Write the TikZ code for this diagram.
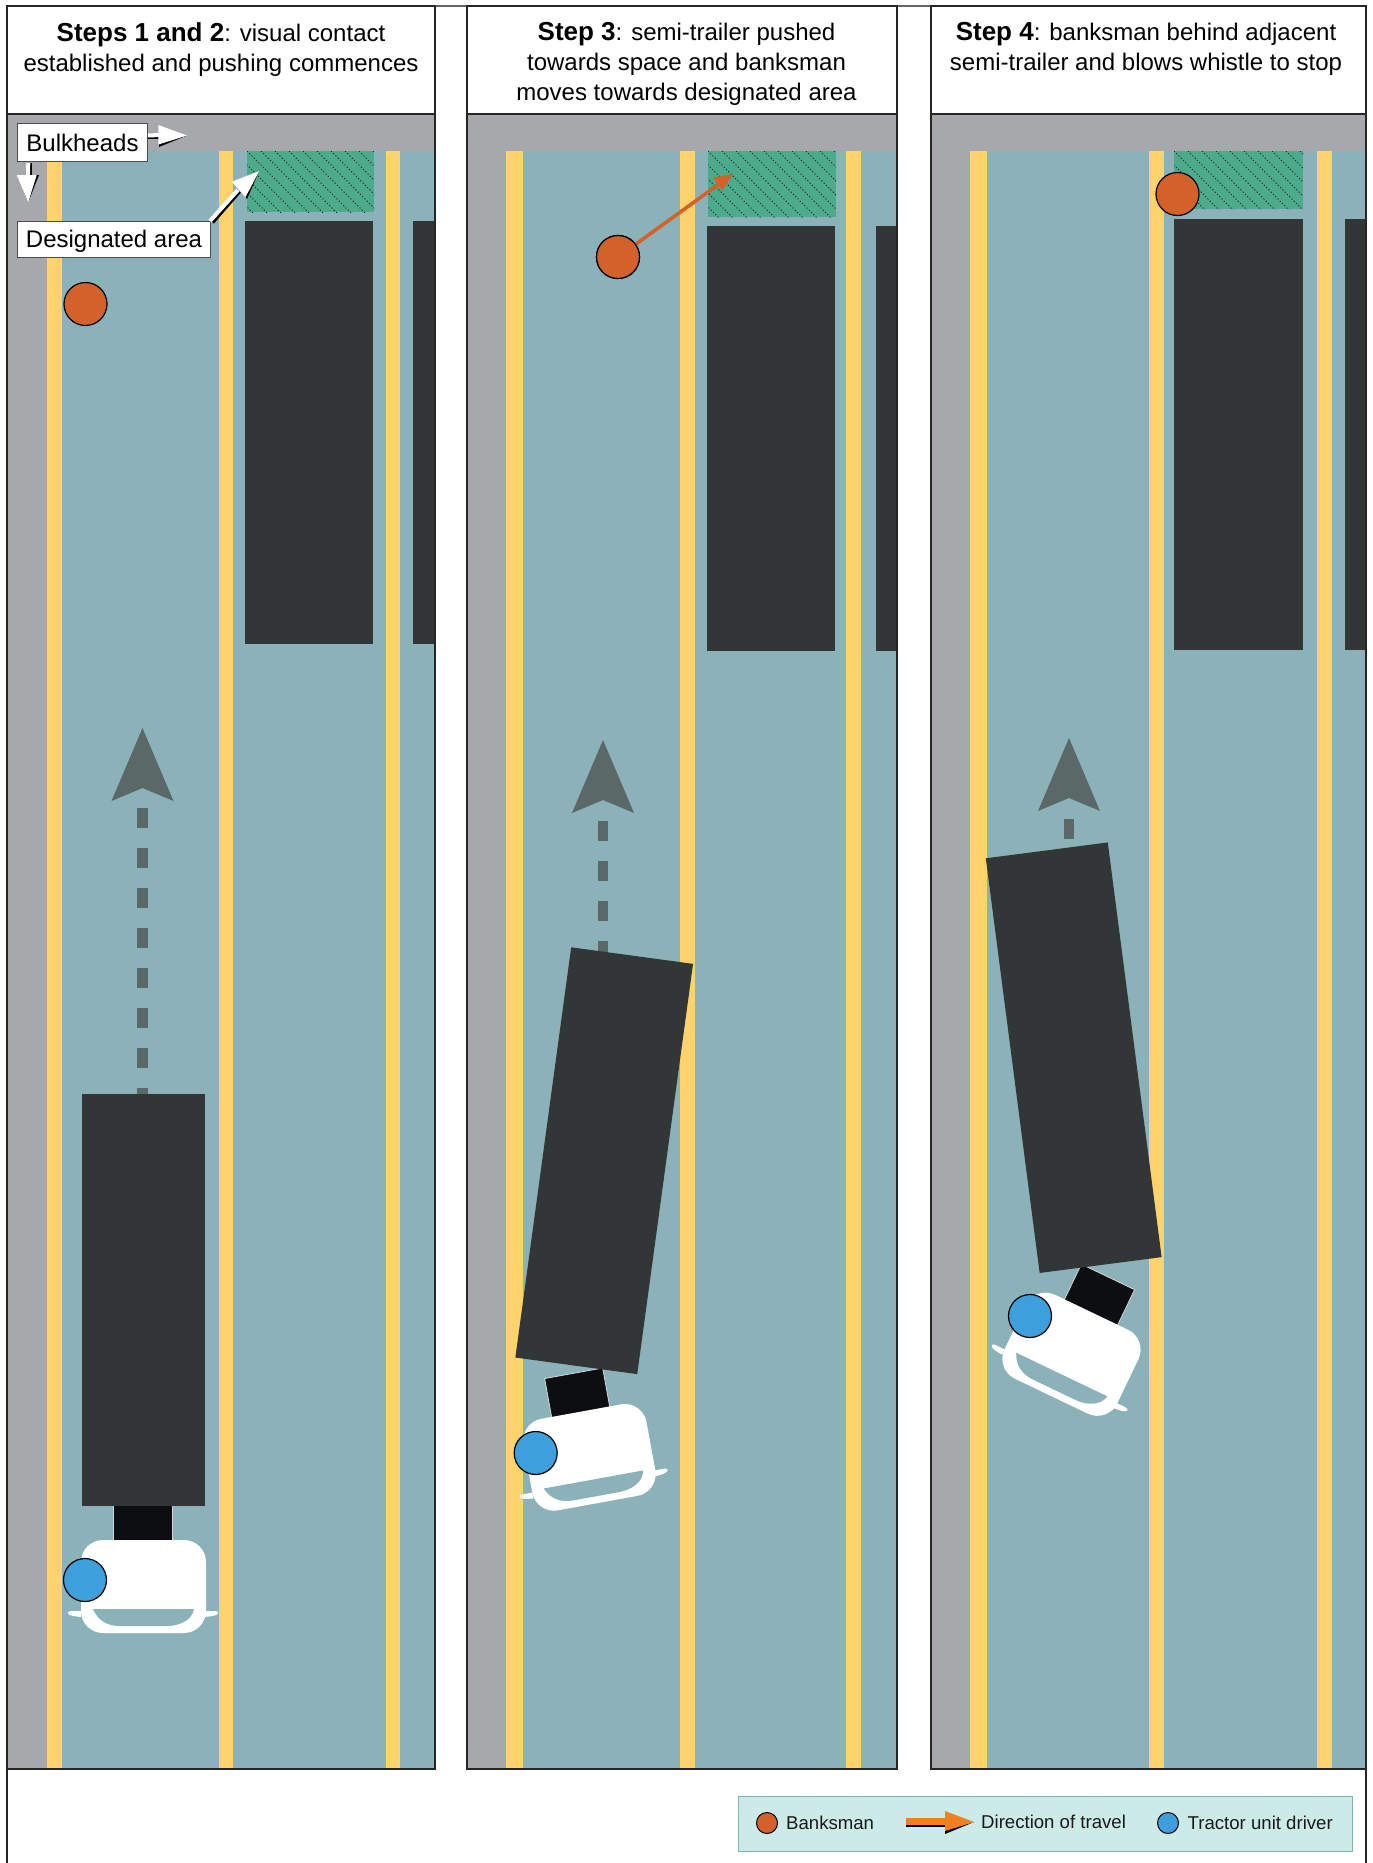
\documentclass[tikz,border=0pt]{standalone}
\usepackage{fontspec}
\setmainfont{Liberation Sans}
\usetikzlibrary{calc}
\definecolor{kerb}{HTML}{A7A8AC}
\definecolor{lane}{HTML}{FFD36B}
\definecolor{floorteal}{HTML}{8BB2B9}
\definecolor{bayarea}{HTML}{4CAB8B}
\definecolor{trailer}{HTML}{323637}
\definecolor{chassis}{HTML}{0D0E12}
\definecolor{banksman}{HTML}{D2622A}
\definecolor{driver}{HTML}{3D9FDB}
\definecolor{guide}{HTML}{5A6868}
\definecolor{legendfill}{HTML}{CCEBE8}
\definecolor{legendline}{HTML}{7EB5AE}
\definecolor{travel}{HTML}{F08020}
\newcommand{\hatcharea}[4]{%
	\fill[bayarea] (#1,#2) rectangle (#3,#4);
	\begin{scope}
		\clip (#1,#2) rectangle (#3,#4);
		\foreach \k in {-84,-70,...,140}
		\draw[black!85, line width=0.9pt, dash pattern=on 1.2pt off 2pt] ($(#1,#2)+(\k,0)$) -- ++(84,84);
	\end{scope}}
\newcommand{\stepname}[1]{{\fontsize{26}{30}\selectfont\textbf{#1}}}

\begin{document}
\begin{tikzpicture}[
	x=1pt, y=-1pt,
	% Styles for the panels and the people
	paneline/.style={draw=black!85, line width=1.6pt},
	steptitle/.style={font=\fontsize{24}{30}\selectfont, align=center, anchor=north, inner sep=0pt},
	callout/.style={draw=black!70, line width=1pt, fill=white, font=\fontsize{24}{28}\selectfont, inner sep=0pt},
	person/.style={circle, draw=black, line width=1.2pt, minimum size=43pt, inner sep=0pt},
	legendtext/.style={font=\fontsize{18.6}{22}\selectfont, inner sep=0pt, anchor=west, text=black!90},
	% Tractor unit and semi-trailer, drawn about the middle of the mirrors
	tractorunit/.pic={
		\draw[fill=chassis, draw=white!85!black, line width=0.8pt] (-29.5,-111) rectangle (29.5,-70);
		\fill[white, rounded corners=22pt] (-62,-72) rectangle (63,21);
		\fill[white] (-62,-1) -- (-72,-1) .. controls (-77,-1) and (-76,3) .. (-70,4) -- (-62,5) -- cycle;
		\fill[white] (62,-1) -- (72,-1) .. controls (77,-1) and (76,3) .. (70,4) -- (62,5) -- cycle;
		\fill[floorteal] (-50,-3) -- (51,-3) .. controls (49,9) and (35,14) .. (24,14) -- (-23,14) .. controls (-35,14) and (-45,9) .. (-50,-3) -- cycle;
	},
	semitrailer/.pic={
		\fill[trailer] (-61.5,-206) rectangle (61.5,206);
	},
	guidearrow/.pic={
		\fill[guide] (0,0) -- (31,73) -- (0,60) -- (-31,73) -- cycle;
	}
	]
	\useasboundingbox (0,0) rectangle (1373,1863);
	\fill[white] (0,0) rectangle (1373,1863);
	
	% ==========================================
	% OUTER FRAME
	% ==========================================
	\draw[black!85, line width=1.4pt] (7,1769) -- (7,1863);
	\draw[black!85, line width=1.6pt] (1366,1769) -- (1366,1863);
	\draw[black!60, line width=1.6pt] (435,6) -- (467,6);
	\draw[black!60, line width=1.6pt] (897,6) -- (931,6);
	
	% ==========================================
	% 1. STEPS 1 AND 2
	% ==========================================
	\fill[kerb] (7,114) rectangle (435,1769);
	\fill[floorteal] (47,151) rectangle (435,1769);
	\fill[lane] (47,151) rectangle (62,1769);
	\fill[lane] (219,151) rectangle (233,1769);
	\fill[lane] (386,151) rectangle (400,1769);
	\hatcharea{247}{151}{374}{212}
	\fill[trailer] (245,221) rectangle (373,644);
	\fill[trailer] (413,221) rectangle (435,644);
	
	% Direction of the push
	\draw[guide, line width=10.5pt, dash pattern=on 20pt off 20pt] (142.5,808) -- (142.5,1100);
	\pic at (142.5,728) {guidearrow};
	\pic at (143,1612) {tractorunit};
	\pic at (143.5,1299.5) {semitrailer};
	\node[person, fill=driver] (driver1) at (85,1580) {};
	\node[person, fill=banksman] (banksman1) at (85.5,304) {};
	
	% Callouts
	\node[callout, anchor=north west, minimum width=130pt, minimum height=38pt] (bulkheads) at (17,123) {Bulkheads};
	\node[callout, anchor=north west, minimum width=193pt, minimum height=36pt, text height=21pt, text depth=4.2pt] (designated) at (17,221) {Designated area};
	\coordinate (bulkright) at (187,135.5);
	\coordinate (bulkdown) at (28.3,202);
	\coordinate (areatip) at (259.3,171);
	\draw[black, line width=5pt] (bulkheads.east |- bulkright) ++(0,0.8) -- (160,136.3);
	\draw[white, line width=4pt] (bulkheads.east |- bulkright) -- (160,135);
	\fill[black] (159,147) -- (bulkright) -- (159,143) -- cycle;
	\fill[white] (158.3,125) -- (bulkright) -- (158.5,144.5) -- cycle;
	\draw[black, line width=5pt] (bulkdown |- bulkheads.south) ++(0.8,1) -- (29.1,176);
	\draw[white, line width=4pt] (bulkdown |- bulkheads.south) ++(0,1) -- (28,176);
	\fill[black] (39,175) -- (bulkdown) -- (35.5,175) -- cycle;
	\fill[white] (16.7,175) -- (bulkdown) -- (36.7,175) -- cycle;
	\draw[black, line width=5pt] (designated.north east) ++(1,1) -- (239,191);
	\draw[white, line width=4pt] (designated.north east) ++(-1,0) -- (238,190);
	\fill[black] (247,199) -- (areatip) -- (245,196) -- cycle;
	\fill[white] (231.7,181.7) -- (areatip) -- (245.5,197) -- cycle;
	
	\node[steptitle] (title1) at (221,22) {\stepname{Steps 1 and 2}: visual contact\\established and pushing commences};
	
	% ==========================================
	% 2. STEP 3
	% ==========================================
	\fill[kerb] (467,114) rectangle (897,1769);
	\fill[floorteal] (506,151) rectangle (897,1769);
	\fill[lane] (506,151) rectangle (523,1769);
	\fill[lane] (680,151) rectangle (695,1769);
	\fill[lane] (846,151) rectangle (861,1769);
	\hatcharea{708}{151}{836}{217}
	\fill[trailer] (707,226) rectangle (835,651);
	\fill[trailer] (876,226) rectangle (897,651);
	
	\draw[guide, line width=10.5pt, dash pattern=on 20pt off 20pt] (603,821) -- (603,960);
	\pic at (603,740) {guidearrow};
	\pic[rotate=10.3] at (593.5,1482.5) {tractorunit};
	\pic[rotate=-7.75, yscale=1.005] at (604.2,1160.7) {semitrailer};
	\node[person, fill=driver] (driver2) at (535.7,1453) {};
	\node[person, fill=banksman] (banksman2) at (618,257) {};
	\coordinate (walktip) at (733,174);
	\draw[banksman, line width=3.6pt] (banksman2) -- ($(banksman2)!0.9!(walktip)$);
	\fill[banksman] (walktip) -- (722,190.5) -- (717,183) -- (713,177.5) -- cycle;
	\node[person, fill=banksman] at (banksman2) {};
	
	\node[steptitle] (title2) at (686.5,22) {\stepname{Step 3}: semi-trailer pushed\\towards space and banksman\\moves towards designated area};
	
	% ==========================================
	% 3. STEP 4
	% ==========================================
	\fill[kerb] (931,114) rectangle (1366,1769);
	\fill[floorteal] (970,151) rectangle (1366,1769);
	\fill[lane] (970,151) rectangle (987,1769);
	\fill[lane] (1149,151) rectangle (1164,1769);
	\fill[lane] (1317,151) rectangle (1332,1769);
	\hatcharea{1174}{151}{1303}{209}
	\fill[trailer] (1174,219) rectangle (1303,650);
	\fill[trailer] (1345,219) rectangle (1366,650);
	
	\draw[guide, line width=10.5pt, dash pattern=on 20pt off 20pt] (1069,819) -- (1069,870);
	\pic at (1069,738) {guidearrow};
	\pic[rotate=-25.6] at (1060,1377) {tractorunit};
	\pic[rotate=7.4, yscale=1.015] at (1073.7,1057.7) {semitrailer};
	\node[person, fill=driver] (driver3) at (1030,1316) {};
	\node[person, fill=banksman] (banksman3) at (1177.5,194) {};
	
	\node[steptitle] (title3) at (1146,22) {\stepname{Step 4}: banksman behind adjacent\\semi-trailer and blows whistle to stop};
	
	% Panel outlines drawn last
	\draw[paneline] (7,6) rectangle (435,1769);
	\draw[paneline] (7,114) -- (435,114);
	\draw[paneline] (467,6) rectangle (897,1769);
	\draw[paneline] (467,114) -- (897,114);
	\draw[paneline] (931,6) rectangle (1366,1769);
	\draw[paneline] (931,114) -- (1366,114);
	
	% ==========================================
	% 4. LEGEND
	% ==========================================
	\node[draw=legendline, line width=1.2pt, fill=legendfill, anchor=north west, minimum width=614pt, minimum height=55pt, inner sep=0pt] (legend) at (738,1796) {};
	\node[circle, draw=black, line width=1pt, fill=banksman, minimum size=21pt, inner sep=0pt] (keybanksman) at (767,1823) {};
	\node[legendtext] (keybanksmantext) at (786,1823) {Banksman};
	\coordinate (keytravelstart) at (906,1823);
	\coordinate (keytraveltip) at (974,1822);
	\fill[black] (keytravelstart) ++(0,1) rectangle (945,1827);
	\fill[black] (945,1834) -- (keytraveltip) -- (945,1830) -- cycle;
	\fill[travel] (keytravelstart) ++(0,-5) rectangle (945,1825);
	\fill[travel] (945,1811) -- (keytraveltip) -- (945,1831) -- cycle;
	\node[legendtext] (keytraveltext) at (981,1822) {Direction of travel};
	\node[circle, draw=black, line width=1pt, fill=driver, minimum size=21pt, inner sep=0pt] (keydriver) at (1168,1823) {};
	\node[legendtext] (keydrivertext) at (1187.5,1823) {Tractor unit driver};
\end{tikzpicture}
\end{document}
